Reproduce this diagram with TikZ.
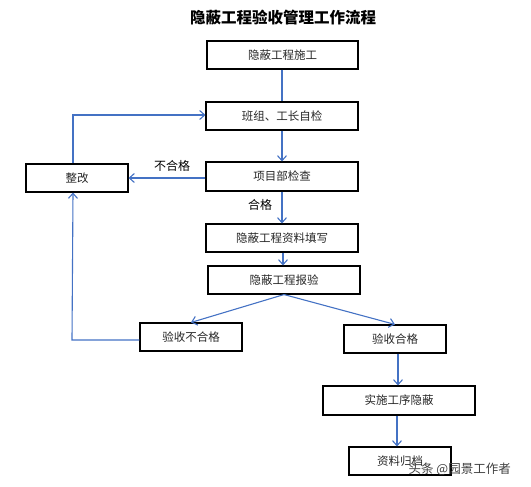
\documentclass[tikz,border=0pt]{standalone}
\usepackage{fontspec}
\setmainfont{Noto Sans CJK SC}
\usetikzlibrary{arrows.meta}
\definecolor{lineblue}{HTML}{4472C4}
\begin{document}
\begin{tikzpicture}[x=1pt,y=-1pt,
  box/.style={draw=black,line width=1.1pt,minimum height=28pt,inner sep=0pt,font=\fontsize{11.5}{12}\selectfont,text=black!85},
  arr/.style={draw=lineblue,line width=1.1pt,-{Straight Barb[length=5pt,width=9pt,line width=1.1pt]}},
  ln/.style={draw=lineblue,line width=1.1pt},
  lbl/.style={font=\fontsize{12}{13}\selectfont,text=black,inner sep=0pt}]
\useasboundingbox (0,0) rectangle (531,487);
\node[font=\bfseries\fontsize{15.5}{16}\selectfont,inner sep=0pt] (title) at (283,18) {隐蔽工程验收管理工作流程};
\node[box,minimum width=151pt] (b1) at (282.5,55) {隐蔽工程施工};
\node[box,minimum width=152pt] (b2) at (282,116) {班组、工长自检};
\node[box,minimum width=152pt,minimum height=29pt] (b3) at (282,176.5) {项目部检查};
\node[box,minimum width=102pt] (zg) at (77,178) {整改};
\node[box,minimum width=152pt] (b4) at (282,238) {隐蔽工程资料填写};
\node[box,minimum width=152pt] (b5) at (284,280) {隐蔽工程报验};
\node[box,minimum width=102pt] (fail) at (191,337) {验收不合格};
\node[box,minimum width=102pt] (pass) at (395,339) {验收合格};
\node[box,minimum width=152pt,minimum height=29pt] (impl) at (399,400.5) {实施工序隐蔽};
\node[box,minimum width=102pt] (arch) at (400,461) {资料归档};
\node[lbl] (ng) at (172,166) {不合格};
\node[lbl] (ok) at (260,205) {合格};
\draw[ln] (b1.south -| 282,0) -- (b2.north -| 282,0);
\draw[arr] (b2.south -| 282,0) -- (b3.north -| 282,0);
\draw[arr] (zg.east -| b3.west) -- (zg.east);
\draw[arr] (b3.south -| 282,0) -- (b4.north -| 282,0);
\draw[arr] (b4.south -| 283,0) -- (b5.north -| 283,0);
\draw[arr] (b5.south) -- (fail.north);
\draw[arr] (b5.south) -- (pass.north);
\draw[arr] (pass.south -| 398,0) -- (impl.north -| 398,0);
\draw[arr] (impl.south -| 397,0) -- (arch.north -| 397,0);
\coordinate (c1) at (72,340);
\draw[arr] (fail.west |- c1) -- (c1) -- (zg.south -| 73,0);
\coordinate (c2) at (73,115);
\draw[arr] (zg.north -| c2) -- (c2) -- (b2.west |- c2);
\node[font=\fontsize{12.5}{13}\selectfont,text=black!75,inner sep=0pt,anchor=east] (wm) at (511,469) {头条 @园景工作者};
\end{tikzpicture}
\end{document}
